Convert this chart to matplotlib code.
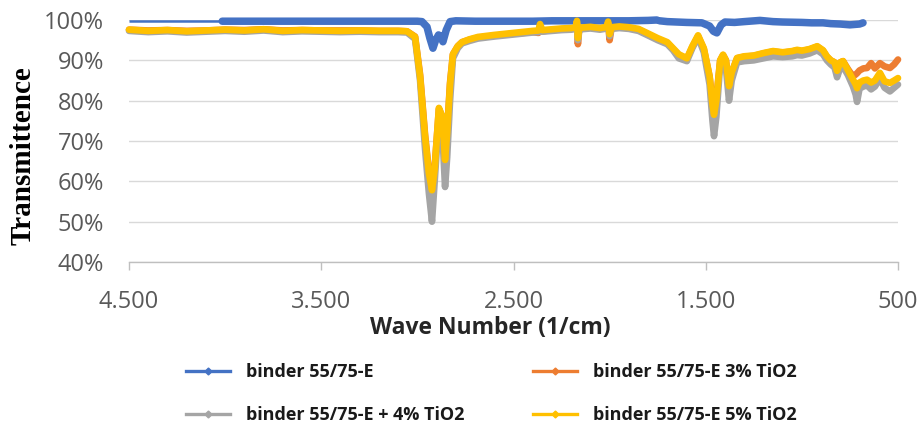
import numpy as np
import matplotlib
matplotlib.use("Agg")
import matplotlib.pyplot as plt
from matplotlib.lines import Line2D
from matplotlib.ticker import FuncFormatter, PercentFormatter

# ---------------- data ----------------
series_labels = ["binder 55/75-E", "binder 55/75-E 3% TiO2",
                 "binder 55/75-E + 4% TiO2", "binder 55/75-E 5% TiO2"]
series_colors = ["#4472C4", "#ED7D31", "#A5A5A5", "#FFC000"]

x_ticks = [4500, 3500, 2500, 1500, 500]
y_ticks = [40, 50, 60, 70, 80, 90, 100]

# binder 55/75-E (blue)
blue_wn = [4500, 4015, 3900, 3800, 3700, 3600, 3500, 3400, 3300, 3200, 3100,
           3000, 2976, 2950, 2935, 2919, 2905, 2890, 2880, 2867, 2850, 2830,
           2800, 2700, 2600, 2500, 2400, 2300, 2200, 2100, 2000, 1900, 1800,
           1754, 1747, 1740, 1700, 1600, 1520, 1480, 1460, 1442, 1420, 1400,
           1350, 1300, 1218, 1150, 1100, 1000, 950, 890, 850, 800, 750, 700, 682]
blue_t = [99.7, 99.7, 99.7, 99.7, 99.7, 99.7, 99.7, 99.7, 99.7, 99.7, 99.7,
          99.7, 99.6, 98.3, 95.5, 93.0, 95.0, 96.3, 96.0, 94.6, 97.5, 99.6,
          99.8, 99.7, 99.7, 99.7, 99.7, 99.8, 99.8, 99.8, 99.8, 99.8, 99.9,
          100.0, np.nan, 99.8, 99.6, 99.4, 99.3, 98.5, 97.2, 96.8, 98.8, 99.5,
          99.4, 99.6, 99.9, 99.6, 99.5, 99.4, 99.3, 99.3, 99.1, 99.0, 98.8, 99.0, 99.3]

# shared wavenumber grid of the TiO2 samples
tio2_wn = [4500, 4400, 4300, 4200, 4100, 4000, 3900, 3800, 3700, 3600, 3500,
           3400, 3300, 3200, 3100, 3054, 3012, 2986, 2960, 2940, 2924, 2910,
           2888, 2870, 2856, 2845, 2830, 2815, 2790, 2768, 2730, 2685, 2600,
           2500, 2400, 2370, 2362, 2350, 2300, 2250, 2200, 2175, 2170, 2165,
           2158, 2150, 2100, 2050, 2015, 2008, 2000, 1990, 1950, 1900, 1850,
           1806, 1750, 1700, 1670, 1640, 1598, 1570, 1540, 1510, 1480, 1465,
           1457, 1445, 1425, 1410, 1395, 1379, 1365, 1337, 1300, 1250, 1200,
           1150, 1100, 1050, 1025, 1000, 960, 920, 890, 870, 850, 830, 817,
           800, 786, 760, 734, 720, 713, 700, 680, 661, 640, 620, 594, 570,
           542, 520, 500]

# 5% TiO2 (yellow)
yellow_t = [97.6, 97.3, 97.5, 97.2, 97.4, 97.6, 97.4, 97.7, 97.3, 97.5, 97.4,
            97.3, 97.4, 97.3, 97.3, 97.2, 95.8, 86.0, 71.0, 62.0, 57.8, 63.0,
            78.2, 76.0, 65.3, 72.0, 84.0, 91.5, 93.5, 94.5, 95.2, 95.8, 96.3,
            96.8, 97.3, 97.4, 99.0, 97.5, 97.7, 97.9, 98.0, 98.2, 99.8, 95.5,
            98.0, 98.1, 98.3, 98.0, 98.3, 99.6, 96.5, 98.2, 98.4, 98.2, 97.8,
            96.8, 95.5, 94.5, 93.0, 91.5, 90.5, 93.5, 96.2, 93.0, 86.0, 79.0,
            76.5, 80.0, 90.0, 91.4, 90.0, 83.6, 87.0, 90.6, 91.0, 91.2, 91.8,
            92.3, 92.0, 92.3, 92.6, 92.4, 92.8, 93.5, 92.5, 91.0, 90.0, 89.5, 87.4,
            89.5, 89.8, 87.5, 85.2, 84.0, 83.1, 84.5, 85.0, 85.2, 84.5, 85.0, 86.9, 84.8,
            84.4, 85.0, 85.6]

# + 4% TiO2 (grey)
grey_t = [97.3, 97.0, 97.2, 96.9, 97.1, 97.3, 97.1, 97.4, 97.0, 97.2, 97.1,
          97.0, 97.1, 97.0, 97.0, 96.9, 95.3, 85.0, 68.0, 57.0, 50.0, 60.0,
          76.0, 72.0, 58.6, 66.0, 80.0, 90.5, 93.0, 94.2, 94.8, 95.4, 95.9,
          96.4, 96.9, 97.0, 98.5, 97.1, 97.3, 97.5, 97.6, 97.8, 99.3, 95.0,
          97.6, 97.7, 97.9, 97.6, 97.9, 99.1, 96.0, 97.8, 98.0, 97.8, 97.3,
          96.3, 95.0, 94.0, 92.5, 90.5, 89.8, 93.0, 95.8, 92.0, 84.0, 75.0,
          71.2, 76.0, 89.0, 90.5, 88.0, 80.0, 85.0, 89.5, 89.8, 90.0, 90.5,
          91.0, 90.8, 91.0, 91.3, 91.2, 91.7, 92.5, 91.5, 90.0, 89.0, 88.2, 85.8,
          88.2, 88.5, 86.3, 83.5, 81.5, 79.7, 83.0, 83.5, 83.8, 82.8, 83.5, 85.5, 83.2,
          82.3, 83.2, 84.0]

# 3% TiO2 (orange)
orange_t = [97.6, 97.4, 97.5, 97.3, 97.4, 97.6, 97.5, 97.7, 97.4, 97.5, 97.4,
            97.4, 97.4, 97.3, 97.3, 97.2, 95.9, 86.5, 71.5, 62.5, 58.5, 63.5,
            78.0, 76.0, 65.5, 72.5, 84.5, 91.5, 93.5, 94.5, 95.1, 95.6, 96.1,
            96.6, 97.0, 96.8, 98.5, 97.2, 97.5, 97.7, 97.8, 97.9, 99.2, 94.0,
            97.8, 97.9, 98.1, 97.8, 98.1, 99.2, 95.0, 98.0, 98.2, 98.0, 97.6,
            96.6, 95.3, 94.3, 92.8, 91.3, 90.4, 93.3, 96.0, 92.8, 86.0, 79.5,
            77.0, 80.5, 90.0, 91.3, 90.0, 84.0, 87.0, 90.5, 90.9, 91.1, 91.7,
            92.2, 91.9, 92.2, 92.5, 92.3, 92.7, 93.4, 92.4, 90.9, 90.0, 89.5, 87.5,
            89.5, 89.8, 87.8, 86.0, 86.5, 86.8, 87.5, 88.0, 88.1, 89.3, 88.0, 89.3, 88.5,
            88.1, 89.0, 90.2]

# ---------------- figure ----------------
W, H = 921, 423
fig = plt.figure(figsize=(W / 100, H / 100), dpi=100)
fig.patch.set_facecolor("white")
ax = fig.add_axes([129 / W, 1 - 262 / H, (898 - 129) / W, (262 - 20) / H])

tick_font = "Open Sans"
lw = 4.8
style = dict(clip_on=False, solid_capstyle="round", solid_joinstyle="round")

# blue: thin lead-in segment, then thick trace
ax.plot(blue_wn[:2], blue_t[:2], color=series_colors[0], lw=1.8,
        clip_on=False, zorder=3, solid_capstyle="butt")
ax.plot(blue_wn[1:], blue_t[1:], color=series_colors[0], lw=5.4, zorder=3, **style)
ax.plot(tio2_wn, orange_t, color=series_colors[1], lw=lw, zorder=4, **style)
ax.plot(tio2_wn, grey_t, color=series_colors[2], lw=lw, zorder=5, **style)
ax.plot(tio2_wn, yellow_t, color=series_colors[3], lw=lw, zorder=6, **style)

ax.set_xlim(4500, 500)
ax.set_ylim(40, 100)
ax.set_xticks(x_ticks)
ax.set_yticks(y_ticks)
ax.xaxis.set_major_formatter(FuncFormatter(lambda v, p: f"{int(round(v)):,}".replace(",", ".")))
ax.yaxis.set_major_formatter(PercentFormatter(xmax=100, decimals=0))

ax.yaxis.grid(True, color="#d9d9d9", lw=1.0)
ax.set_axisbelow(True)
for s in ["top", "right", "left"]:
    ax.spines[s].set_visible(False)
ax.spines["bottom"].set_color("#bfbfbf")
ax.spines["bottom"].set_linewidth(1.0)
ax.tick_params(axis="y", length=0, pad=18, labelsize=17, labelcolor="#595959")
ax.tick_params(axis="x", length=6, width=1, color="#bfbfbf", direction="out",
               pad=14, labelsize=17, labelcolor="#595959")
for lab in ax.get_xticklabels() + ax.get_yticklabels():
    lab.set_fontfamily(tick_font)

fig.text(23 / W, 1 - 156 / H, "Transmittence", rotation=90, ha="center",
         va="center", fontfamily="Liberation Serif", fontweight="bold",
         fontsize=21, color="black")
fig.text(490 / W, 1 - 328 / H, "Wave Number (1/cm)", ha="center", va="center",
         fontfamily="Open Sans", fontweight="bold", fontsize=16.5, color="#262626")

handles = [Line2D([], [], color=c, lw=2.4, marker="D", markersize=3.5)
           for c in series_colors]
order = [0, 2, 1, 3]
leg = fig.legend([handles[i] for i in order], [series_labels[i] for i in order],
                 ncol=2, loc="upper left", bbox_to_anchor=(186 / W, 1 - 363 / H),
                 frameon=False, borderpad=0, borderaxespad=0,
                 handlelength=2.45, handletextpad=0.9, columnspacing=3.75,
                 labelspacing=1.4,
                 prop={"family": "Open Sans", "weight": "bold", "size": 13})
for t in leg.get_texts():
    t.set_color("#1a1a1a")

fig.savefig("out.png", dpi=100, facecolor="white")
